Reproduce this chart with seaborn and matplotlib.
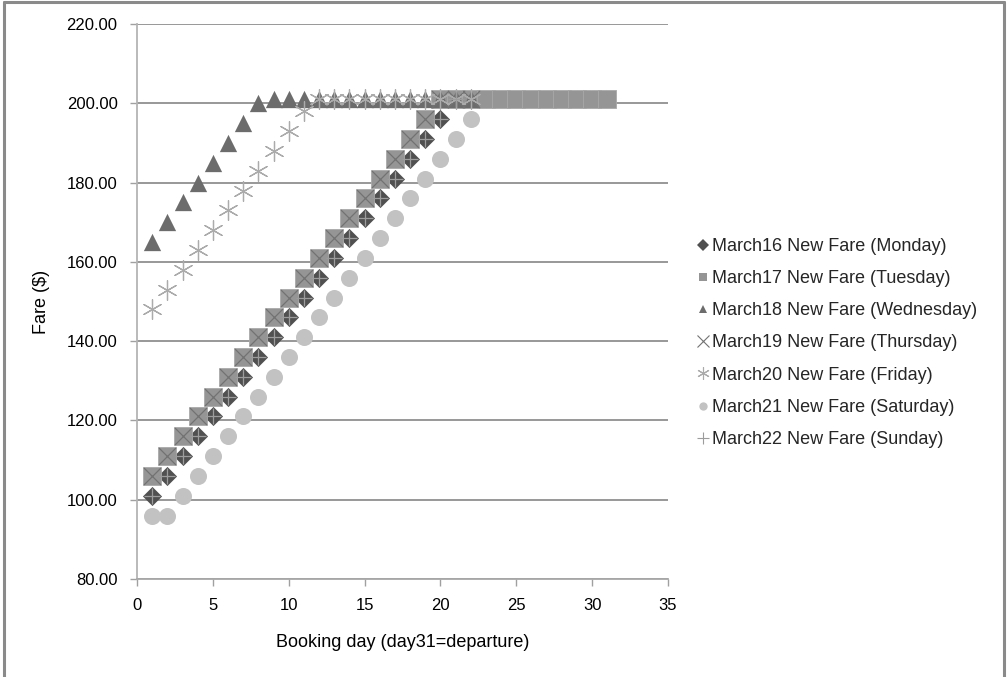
import matplotlib
matplotlib.use("Agg")
import matplotlib.pyplot as plt
from matplotlib.lines import Line2D
import seaborn as sns
import numpy as np
import pandas as pd

# ---- data ----
days_mon = list(range(1, 22))
fare_mon = [101, 106, 111, 116, 121, 126, 131, 136, 141, 146, 151, 156, 161, 166,
            171, 176, 181, 186, 191, 196, 201]
days_tue = list(range(1, 32))
fare_tue = [106, 111, 116, 121, 126, 131, 136, 141, 146, 151, 156, 161, 166, 171,
            176, 181, 186, 191, 196] + [201] * 12
days_wed = list(range(1, 23))
fare_wed = [165, 170, 175, 180, 185, 190, 195, 200] + [201] * 14
days_thu = list(range(1, 23))
fare_thu = [106, 111, 116, 121, 126, 131, 136, 141, 146, 151, 156, 161, 166, 171,
            176, 181, 186, 191, 196] + [201] * 3
days_fri = list(range(1, 23))
fare_fri = [148, 153, 158, 163, 168, 173, 178, 183, 188, 193, 198] + [201] * 11
days_sat = list(range(1, 23))
fare_sat = [96, 96, 101, 106, 111, 116, 121, 126, 131, 136, 141, 146, 151, 156,
            161, 166, 171, 176, 181, 186, 191, 196]
days_sun = list(range(1, 22))
fare_sun = [101, 106, 111, 116, 121, 126, 131, 136, 141, 146, 151, 156, 161, 166,
            171, 176, 181, 186, 191, 196, 201]

labels = ["March16 New Fare (Monday)", "March17 New Fare (Tuesday)",
          "March18 New Fare (Wednesday)", "March19 New Fare (Thursday)",
          "March20 New Fare (Friday)", "March21 New Fare (Saturday)",
          "March22 New Fare (Sunday)"]
y_ticks = [80, 100, 120, 140, 160, 180, 200, 220]
x_ticks = [0, 5, 10, 15, 20, 25, 30, 35]

sns.set_theme(style="white")
plt.rcParams['font.family'] = ['Liberation Sans', 'DejaVu Sans']

fig = plt.figure(figsize=(10.07, 6.77), dpi=100)
ax = fig.add_axes([137 / 1007, 1 - 579 / 677, (668 - 137) / 1007, (579 - 24) / 677])

series = [
    (days_mon, fare_mon, "D", "#505050", 95, True, 0, "#505050"),
    (days_tue, fare_tue, "s", "#959595", 150, True, 0.6, "#a9a9a9"),
    (days_wed, fare_wed, "^", "#6c6c6c", 155, True, 0, "#6c6c6c"),
    (days_thu, fare_thu, "x", "#727272", 150, False, 0.9, None),
    (days_fri, fare_fri, (6, 2, 0), "#ababab", 200, False, 0.9, None),
    (days_sat, fare_sat, "o", "#c2c2c2", 150, True, 0, "#c2c2c2"),
    (days_sun, fare_sun, "+", "#9c9c9c", 120, False, 0.9, None),
]

for (dx, fy, mk, col, sz, filled, lw, ec), lab in zip(series, labels):
    df = pd.DataFrame({"day": dx, "fare": fy})
    if filled:
        sns.scatterplot(data=df, x="day", y="fare", ax=ax, marker=mk, color=col,
                        s=sz, edgecolor=ec, linewidth=lw, label=lab, legend=False)
    else:
        sns.scatterplot(data=df, x="day", y="fare", ax=ax, marker=mk, color=col,
                        s=sz, linewidth=lw, label=lab, legend=False)

ax.set_xlim(0, 35)
ax.set_ylim(80, 220)
ax.set_xticks(x_ticks)
ax.set_xticklabels([str(t) for t in x_ticks])
ax.set_yticks(y_ticks)
ax.set_yticklabels([f"{t:.2f}" for t in y_ticks])
ax.tick_params(axis="y", which="major", direction="out", length=5, width=1,
               color="#a0a0a0", pad=9, labelsize=12, labelcolor="black", left=True)
ax.tick_params(axis="x", which="major", direction="out", length=5, width=1,
               color="#a0a0a0", pad=9, labelsize=12, labelcolor="black", bottom=True)

ax.grid(axis="y", color="#909090", linewidth=1.3)
ax.grid(axis="x", visible=False)
ax.set_axisbelow(True)
for side in ["top", "right"]:
    ax.spines[side].set_visible(False)
ax.spines["left"].set_color("#b4b4b4")
ax.spines["left"].set_linewidth(1.3)
ax.spines["bottom"].set_color("#a8a8a8")
ax.spines["bottom"].set_linewidth(1.3)

ax.set_xlabel("Booking day (day31=departure)", fontsize=13, labelpad=15, color="black")
ax.set_ylabel("Fare ($)", fontsize=13, labelpad=12, color="black")

# legend
handles = []
for (dx, fy, mk, col, sz, filled, lw, ec), lab in zip(series, labels):
    if filled:
        h = Line2D([], [], linestyle="", marker=mk, color=col, markersize=6,
                   markeredgewidth=0)
    else:
        h = Line2D([], [], linestyle="", marker=mk, color=col, markersize=9,
                   markeredgewidth=0.8)
    handles.append(h)
fig.legend(handles, labels, loc="upper left",
           bbox_to_anchor=(697 / 1007, 1 - 238 / 677), frameon=False,
           fontsize=13, handlelength=0.7, handletextpad=0.15, labelspacing=0.84,
           borderpad=0, borderaxespad=0)

# outer chart frame (top, left, right)
fig.add_artist(Line2D([3.5 / 1007, 3.5 / 1007], [0, 1 - 1.5 / 677], color="#8a8a8a",
                      linewidth=2.2, transform=fig.transFigure))
fig.add_artist(Line2D([3.5 / 1007, 1004 / 1007], [1 - 1.5 / 677, 1 - 1.5 / 677],
                      color="#8a8a8a", linewidth=2.2, transform=fig.transFigure))
fig.add_artist(Line2D([1004 / 1007, 1004 / 1007], [0, 1 - 1.5 / 677], color="#8a8a8a",
                      linewidth=2.2, transform=fig.transFigure))

fig.savefig("out.png", dpi=100, facecolor="white")
